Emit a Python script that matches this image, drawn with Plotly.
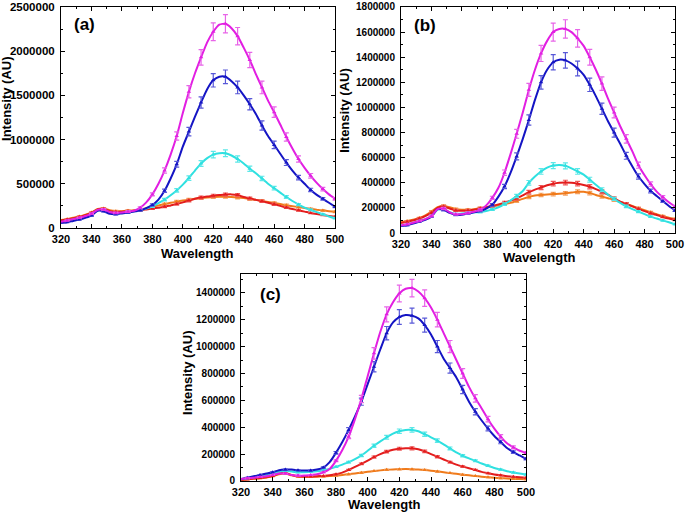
import plotly.graph_objects as go

# wavelength grid (nm), values in thousands of AU
wavelength = list(range(320, 501, 4))

# ---- panel (a)
a_magenta = [70, 85, 100, 115, 135, 160, 205, 210, 180, 170, 175, 185, 195, 230, 290, 380, 500, 650, 830, 1040,
             1300, 1540, 1750, 1930, 2100, 2220, 2300, 2310, 2260, 2170, 2040, 1900, 1740, 1590, 1440, 1310, 1170,
             1030, 900, 780, 680, 590, 510, 440, 380, 330]
a_blue = [55, 65, 80, 95, 115, 140, 195, 190, 160, 155, 165, 175, 185, 200, 225, 260, 320, 420, 560, 720,
          920, 1090, 1260, 1420, 1570, 1670, 1710, 1710, 1660, 1590, 1500, 1400, 1290, 1160, 1040, 940, 840,
          740, 650, 570, 500, 430, 375, 330, 285, 240]
a_cyan = [65, 80, 95, 110, 130, 155, 200, 205, 175, 165, 170, 180, 190, 205, 220, 245, 280, 320, 370, 425,
          490, 565, 650, 730, 790, 830, 845, 845, 820, 780, 730, 670, 620, 560, 500, 450, 400,
          350, 305, 265, 230, 205, 180, 155, 130, 110]
a_red = [85, 95, 110, 125, 145, 170, 210, 215, 190, 180, 185, 190, 195, 200, 210, 220, 230, 240, 255, 270,
         290, 310, 330, 345, 355, 365, 372, 378, 380, 372, 350, 335, 318, 302, 285, 268, 250,
         232, 215, 200, 185, 170, 158, 147, 137, 127]
a_orange = [90, 100, 115, 130, 150, 175, 215, 220, 200, 190, 190, 195, 200, 210, 225, 240, 255, 270, 285, 298,
            310, 320, 330, 338, 345, 350, 352, 352, 350, 345, 338, 328, 318, 306, 294, 282, 270,
            258, 247, 236, 226, 216, 206, 198, 190, 183]

# ---- panel (b)
b_magenta = [60, 70, 82, 95, 110, 135, 190, 195, 165, 150, 150, 160, 170, 185, 220, 280, 360, 480, 630, 790,
             960, 1140, 1300, 1430, 1530, 1600, 1625, 1625, 1600, 1550, 1490, 1400, 1300, 1190, 1070, 960, 850,
             750, 650, 540, 460, 390, 330, 285, 245, 210]
b_blue = [55, 62, 75, 90, 105, 130, 190, 185, 160, 145, 145, 155, 165, 175, 195, 225, 290, 370, 480, 610,
          750, 900, 1060, 1200, 1300, 1360, 1380, 1375, 1350, 1310, 1260, 1180, 1090, 990, 890, 800, 710,
          615, 530, 450, 390, 335, 295, 255, 215, 180]
b_cyan = [60, 68, 80, 95, 110, 135, 185, 190, 165, 150, 155, 160, 165, 168, 175, 188, 205, 230, 260, 295,
          335, 400, 450, 490, 520, 537, 542, 535, 515, 490, 465, 425, 385, 345, 305, 272, 240,
          212, 190, 170, 150, 130, 115, 100, 85, 70]
b_red = [80, 90, 100, 115, 135, 160, 200, 210, 195, 180, 178, 180, 185, 195, 205, 215, 228, 242, 258, 275,
         300, 325, 345, 362, 380, 393, 400, 402, 400, 393, 382, 368, 350, 328, 305, 275, 250,
         232, 212, 192, 174, 157, 143, 128, 115, 104]
b_orange = [85, 95, 105, 120, 140, 170, 205, 215, 205, 190, 185, 185, 190, 198, 205, 212, 220, 230, 240, 255,
            272, 287, 298, 303, 307, 310, 312, 316, 322, 328, 328, 318, 303, 290, 277, 264, 248,
            232, 215, 198, 182, 165, 150, 135, 122, 112]

# ---- panel (c)
c_magenta = [15, 20, 25, 30, 35, 45, 55, 55, 45, 40, 40, 45, 50, 65, 90, 150, 230, 330, 460, 610,
             780, 950, 1110, 1240, 1330, 1395, 1430, 1435, 1410, 1360, 1290, 1200, 1100, 1000, 900, 800, 700,
             615, 540, 460, 390, 330, 280, 250, 225, 210]
c_blue = [15, 25, 35, 45, 55, 65, 80, 85, 85, 80, 78, 78, 85, 100, 140, 210, 290, 380, 480, 590,
          720, 850, 980, 1100, 1180, 1220, 1235, 1230, 1210, 1160, 1090, 1000, 910, 840, 770, 680, 590,
          515, 450, 390, 335, 290, 245, 215, 190, 165]
c_cyan = [12, 20, 28, 35, 45, 55, 70, 75, 70, 65, 65, 68, 72, 80, 90, 105, 122, 140, 162, 190,
          225, 262, 295, 325, 352, 370, 380, 380, 370, 348, 325, 300, 272, 242, 212, 188, 168,
          150, 130, 113, 97, 85, 73, 63, 55, 48]
c_red = [8, 12, 18, 22, 28, 38, 55, 60, 45, 36, 33, 33, 35, 38, 42, 50, 62, 82, 105, 128,
         152, 178, 200, 218, 232, 240, 244, 243, 236, 220, 200, 180, 160, 140, 122, 108, 95,
         82, 68, 58, 49, 42, 36, 31, 27, 24]
c_orange = [8, 12, 16, 20, 26, 35, 50, 55, 42, 33, 30, 30, 32, 34, 37, 40, 45, 50, 56, 62,
            68, 74, 79, 83, 86, 88, 89, 88, 86, 82, 77, 71, 65, 59, 53, 47, 42,
            37, 32, 28, 24, 21, 18, 16, 14, 12]

ERR_PCT = 4.5

COLORS = {
    'orange': '#F07A1A',
    'red': '#E31C1C',
    'cyan': '#2EE0E0',
    'blue': '#1414C4',
    'magenta': '#E21EE2',
}
BAR_COLORS = {
    'orange': '#F4A060',
    'red': '#EE5A5A',
    'cyan': '#5CE8E8',
    'blue': '#5858D8',
    'magenta': '#E864E8',
}

panels = [
    ('', {'orange': a_orange, 'red': a_red, 'cyan': a_cyan, 'blue': a_blue, 'magenta': a_magenta}),
    ('2', {'orange': b_orange, 'red': b_red, 'cyan': b_cyan, 'blue': b_blue, 'magenta': b_magenta}),
    ('3', {'orange': c_orange, 'red': c_red, 'cyan': c_cyan, 'blue': c_blue, 'magenta': c_magenta}),
]

fig = go.Figure()
for suffix, series in panels:
    for name, vals in series.items():
        y = [v * 1000 for v in vals]
        fig.add_trace(go.Scatter(
            x=wavelength, y=y, mode='lines',
            line=dict(color=COLORS[name], width=2, shape='spline', smoothing=0.6),
            xaxis='x' + suffix, yaxis='y' + suffix, showlegend=False, hoverinfo='skip'
        ))
        fig.add_trace(go.Scatter(
            x=wavelength[1::2], y=y[1::2], mode='markers',
            marker=dict(color=COLORS[name], size=4, symbol='triangle-up'),
            error_y=dict(type='percent', value=ERR_PCT, color=BAR_COLORS[name], thickness=1.2, width=2.5),
            xaxis='x' + suffix, yaxis='y' + suffix, showlegend=False
        ))

FONT = 'Liberation Sans, Arial, sans-serif'
TITLE_FONT = dict(family=FONT, size=13, color='black', weight='bold')

def xaxis_style(anchor, domain):
    return dict(
        domain=domain, anchor=anchor, range=[320, 500], dtick=20, tick0=320, automargin=False,
        showline=True, linecolor='black', linewidth=1, mirror='ticks',
        ticks='inside', ticklen=4, tickcolor='black',
        minor=dict(ticks='inside', ticklen=2, dtick=10, tickcolor='black'),
        showgrid=False, zeroline=False, ticklabelstandoff=1,
        tickfont=dict(family=FONT, size=11, color='black', weight='bold'),
    )

def yaxis_style(anchor, domain, rng, dtick, minor, tsize):
    return dict(
        domain=domain, anchor=anchor, range=rng, dtick=dtick, tickformat='d', automargin=False,
        showline=True, linecolor='black', linewidth=1, mirror='ticks',
        ticks='inside', ticklen=4, tickcolor='black',
        minor=dict(ticks='inside', ticklen=2, dtick=minor, tickcolor='black'),
        showgrid=False, zeroline=False, ticklabelstandoff=3,
        tickfont=dict(family=FONT, size=tsize, color='black', weight='bold'),
    )

fig.update_layout(
    width=685, height=513,
    margin=dict(l=0, r=0, t=0, b=0),
    paper_bgcolor='white', plot_bgcolor='white',
    xaxis=xaxis_style('y', [0.0891, 0.4891]),
    yaxis=yaxis_style('x', [0.5556, 0.9864], [0, 2500000], 500000, 250000, 11.5),
    xaxis2=xaxis_style('y2', [0.5854, 0.9854]),
    yaxis2=yaxis_style('x2', [0.5458, 0.9864], [0, 1800000], 200000, 100000, 10),
    xaxis3=xaxis_style('y3', [0.3518, 0.7679]),
    yaxis3=yaxis_style('x3', [0.0624, 0.4659], [0, 1540000], 200000, 100000, 10),
)

# panel letters
for label, xr, yr, xpos, ypos in [('(a)', 'x domain', 'y domain', 0.04, 0.92),
                                  ('(b)', 'x2 domain', 'y2 domain', 0.04, 0.92),
                                  ('(c)', 'x3 domain', 'y3 domain', 0.06, 0.90)]:
    fig.add_annotation(text=label, xref=xr, yref=yr, x=xpos, y=ypos, xanchor='left', yanchor='middle',
                       showarrow=False, font=dict(family=FONT, size=17, color='black', weight='bold'))

# axis titles
for xpos, ypos in [(0.289, 0.5068), (0.788, 0.4971), (0.562, 0.0175)]:
    fig.add_annotation(text='Wavelength', xref='paper', yref='paper', x=xpos, y=ypos,
                       xanchor='center', yanchor='middle', showarrow=False, font=TITLE_FONT)
for xpos, ypos in [(0.0102, 0.809), (0.5036, 0.786), (0.2745, 0.273)]:
    fig.add_annotation(text='Intensity (AU)', xref='paper', yref='paper', x=xpos, y=ypos, textangle=-90,
                       xanchor='center', yanchor='middle', showarrow=False, font=TITLE_FONT)

# the page body has a default 8px margin; drop it so the figure sits at the window corner
fig.write_html("out.html", config={'displayModeBar': False},
               post_script="document.body.style.margin='0px';")
